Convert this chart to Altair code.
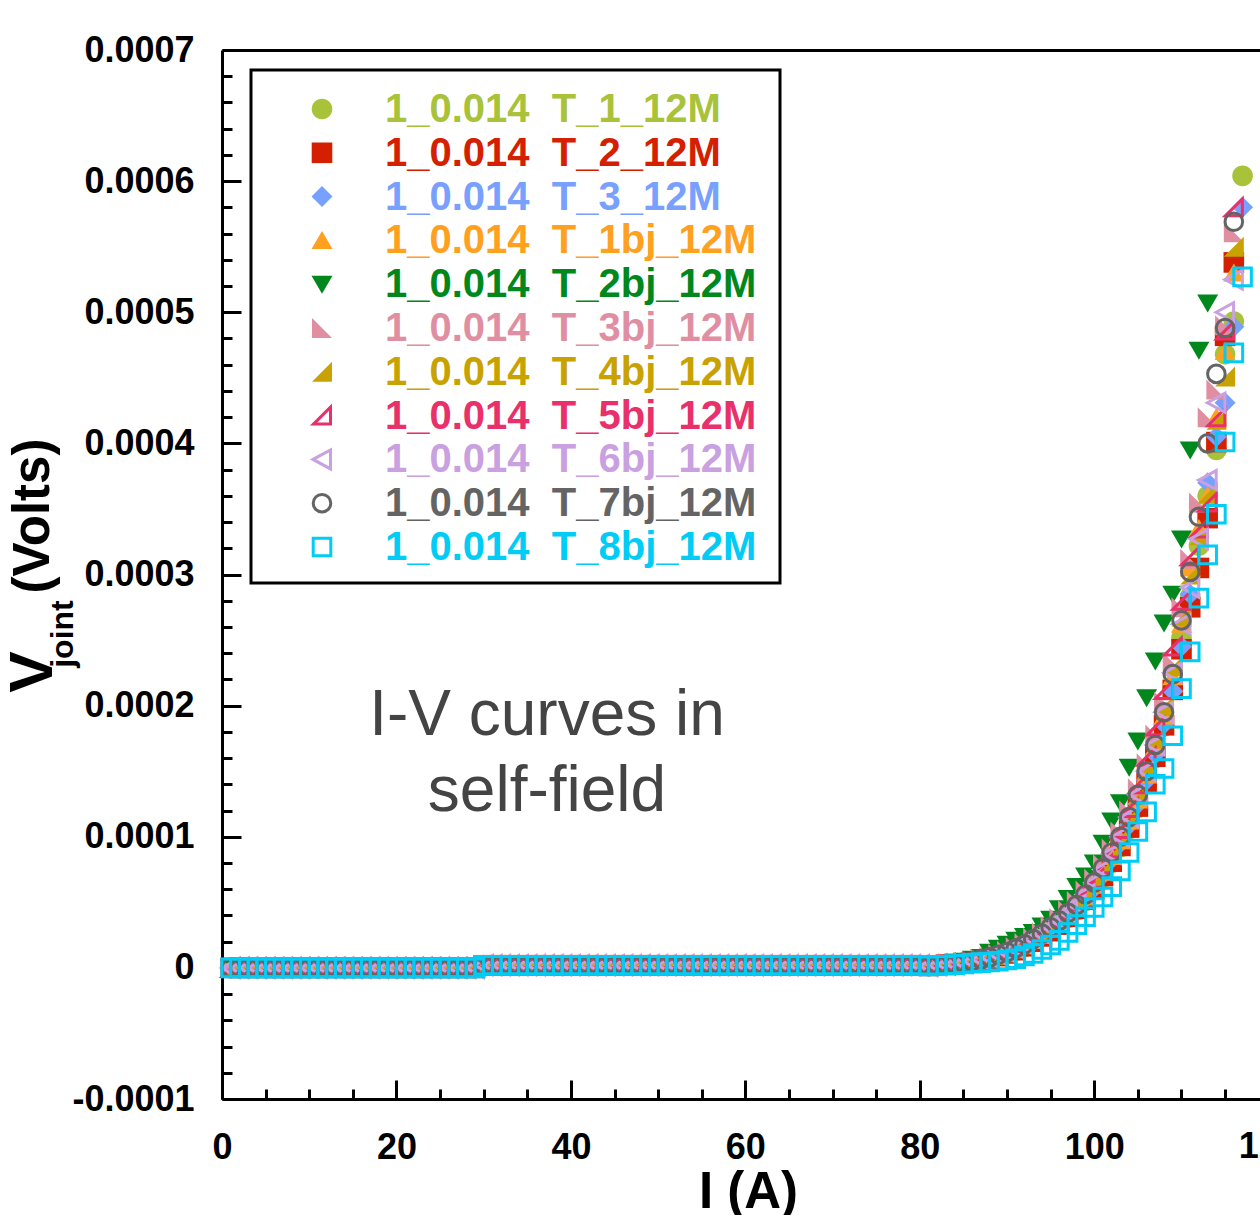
import altair as alt
import pandas as pd

# ---------------- data ----------------
SERIES = [
    "1_0.014 T_1_12M", "1_0.014 T_2_12M", "1_0.014 T_3_12M",
    "1_0.014 T_1bj_12M", "1_0.014 T_2bj_12M", "1_0.014 T_3bj_12M",
    "1_0.014 T_4bj_12M", "1_0.014 T_5bj_12M", "1_0.014 T_6bj_12M",
    "1_0.014 T_7bj_12M", "1_0.014 T_8bj_12M",
]
COLORS = ["#a8c23a", "#d42000", "#78a0ff", "#ffa01e", "#00881c", "#e08fa2",
          "#c8a200", "#e8306a", "#c9a0e0", "#646464", "#00ccf5"]

CURRENT_A = list(range(1, 118))  # measurement current grid (A)

# common flat part, I = 1..80 (microvolts)
BASE_UV = [
    0, 0, 0, 0, 0, 0, 0, 0, 0, 0,
    0, 0, 0, 0, 0, 0, 0, 0, 0, 0,
    0, 0, 0, 0, 0, 0, 0, 0, 0, 2,
    2, 2, 2, 2, 2, 2, 2, 2, 2, 2,
    2, 2, 2, 2, 2, 2, 2, 2, 2, 2,
    2, 2, 2, 2, 2, 2, 2, 2, 2, 2,
    2, 2, 2, 2, 2, 2, 2, 2, 2, 2,
    2, 2, 2, 2, 2, 2, 2, 2, 2, 2,
]

# rising part, from I = 81 A (microvolts)
RISE_1_12M = [1.5, 2, 2.5, 3, 3.5, 4.5, 5.5, 7, 9, 11, 13, 16, 20, 24, 28, 33, 38, 44, 51, 59,
              69, 80, 92, 106, 122, 140, 160, 184, 213, 252, 283, 322, 360, 395, 468, 493, 604]
RISE_2_12M = [1.5, 2, 2.5, 3, 3.5, 4.5, 5.5, 7, 9, 11, 13.5, 16.5, 20, 24, 28, 33, 39, 45, 52, 60,
              70, 81, 93, 107, 123, 141, 161, 185, 212, 243, 275, 305, 343, 401, 482, 538]
RISE_3_12M = [1.5, 2, 2.5, 3, 3.5, 4.5, 6, 7.5, 9.5, 11.5, 14, 17, 20, 24, 29, 34, 40, 46, 53, 61,
              71, 83, 95, 109, 125, 143, 163, 186, 211, 245, 285, 328, 370, 405, 431, 489, 580]
RISE_1BJ = [1.5, 2, 2.5, 3, 4, 5, 6, 7.5, 9.5, 12, 14.5, 17.5, 21, 25, 30, 35, 41, 47, 54, 63,
            73, 85, 97, 112, 128, 147, 168, 192, 222, 262, 305, 335, 360, 420, 470, 530]
RISE_2BJ = [2, 2.5, 3, 4, 5, 6.5, 8, 12, 15, 18, 21, 24, 27, 32, 37, 45, 53, 62, 70, 80,
            95, 112, 126, 153, 173, 206, 234, 263, 285, 327, 395, 471, 507]
RISE_3BJ = [2, 2.5, 3, 3.5, 4.5, 5.5, 7, 8.5, 10.5, 13, 16, 19, 23, 27, 32, 38, 44, 51, 59, 68,
            79, 91, 104, 120, 137, 156, 178, 203, 233, 275, 312, 355, 420, 441, 490, 561]
RISE_4BJ = [1.5, 2, 2.5, 3, 4, 5, 6.5, 8, 10, 12, 15, 18, 22, 26, 31, 36, 42, 48, 56, 65,
            75, 87, 100, 115, 132, 152, 175, 200, 230, 268, 300, 330, 362, 418, 451, 550]
RISE_5BJ = [2, 2.5, 3, 3.5, 4.5, 5.5, 7, 8.5, 10.5, 13, 16, 19, 23, 27, 32, 38, 44, 51, 59, 68,
            79, 91, 106, 122, 140, 161, 184, 212, 245, 280, 314, 335, 355, 420, 486, 580]
RISE_6BJ = [1.5, 2, 2.5, 3, 4, 5, 6.5, 8, 10, 12, 15, 18, 22, 26, 31, 36, 42, 48, 56, 65,
            75, 87, 100, 115, 132, 150, 170, 195, 225, 262, 290, 327, 372, 431, 500, 525]
RISE_7BJ = [1.5, 2, 2.5, 3, 4, 5, 6.5, 8, 10, 12, 15, 18, 22, 26, 31, 36, 42, 48, 56, 65,
            76, 88, 100, 115, 132, 150, 170, 195, 224, 265, 302, 344, 400, 453, 488, 569]
RISE_8BJ = [1.5, 2, 2, 2.5, 3, 3.5, 4, 4.5, 5, 6, 7, 9, 11, 14, 17.5, 21, 27, 33, 39, 46,
            54, 62, 74, 88, 104, 119, 140, 152, 177, 213, 241, 282, 315, 346, 401, 469, 527]

RISES = [RISE_1_12M, RISE_2_12M, RISE_3_12M, RISE_1BJ, RISE_2BJ, RISE_3BJ,
         RISE_4BJ, RISE_5BJ, RISE_6BJ, RISE_7BJ, RISE_8BJ]

X_LABELS = [0, 20, 40, 60, 80, 100]
X_EDGE_LABEL = [120]   # label partly beyond the visible right edge
X_TICKS = [0, 5, 10, 15, 20, 25, 30, 35, 40, 45, 50, 55, 60, 65, 70, 75, 80, 85,
           90, 95, 100, 105, 110, 115, 120]
Y_LABELS = [-0.0001, 0, 0.0001, 0.0002, 0.0003, 0.0004, 0.0005, 0.0006, 0.0007]
Y_TICKS = [round(-0.0001 + k * 0.00002, 6) for k in range(41)]

# ---------------- styles ----------------
FONT = "Liberation Sans"
LABEL_SIZE = 36
X_LABEL_PAD = 31
SHAPES = [
    "M1.03,0A1.03,1.03 0 1,1 -1.03,0A1.03,1.03 0 1,1 1.03,0Z",   # filled circle
    "M-1.03,-1.03H1.03V1.03H-1.03Z",                              # filled square
    "M0,-1.05L1.05,0L0,1.05L-1.05,0Z",                            # filled diamond
    "M0,-0.95L1.05,0.85L-1.05,0.85Z",                             # triangle up
    "M-1.05,-0.85L1.05,-0.85L0,0.95Z",                            # triangle down
    "M-1,-1L1,1L-1,1Z",                                           # right triangle (left)
    "M1,-1L1,1L-1,1Z",                                            # right triangle (right)
    "M0.85,-0.85L0.85,0.85L-0.85,0.85Z",                          # open right triangle
    "M-0.9,0L0.85,-0.95L0.85,0.95Z",                              # open triangle left
    "M0.88,0A0.88,0.88 0 1,1 -0.88,0A0.88,0.88 0 1,1 0.88,0Z",    # open circle
    "M-0.88,-0.88H0.88V0.88H-0.88Z",                              # open square
]
OPEN = [False] * 7 + [True] * 4
FILLS = [("transparent" if o else c) for c, o in zip(COLORS, OPEN)]
STROKES = [(c if o else "transparent") for c, o in zip(COLORS, OPEN)]

rows = []
for name, rise in zip(SERIES, RISES):
    vals = BASE_UV + rise
    for cur, v in zip(CURRENT_A, vals):
        rows.append({"series": name, "current": cur, "voltage": v * 1e-6})
df = pd.DataFrame(rows)

legend_df = pd.DataFrame({
    "series": SERIES,
    "label": [s.replace(" ", "\u00a0\u00a0") for s in SERIES],
})
one = pd.DataFrame({"k": [0]})
tick_df = pd.DataFrame({"current": [0.0], "voltage": [0.0]})
edge_df = pd.DataFrame({"current": X_EDGE_LABEL, "txt": [str(v) for v in X_EDGE_LABEL]})

W, H = 1038, 1049
x_scale = alt.Scale(domain=[0, 119], nice=False, zero=False)
y_scale = alt.Scale(domain=[-0.0001, 0.0007], nice=False, zero=False)
shape_scale = alt.Scale(domain=SERIES, range=SHAPES)
fill_scale = alt.Scale(domain=SERIES, range=FILLS)
stroke_scale = alt.Scale(domain=SERIES, range=STROKES)
color_scale = alt.Scale(domain=SERIES, range=COLORS)

Y_LABEL_EXPR = ("datum.value == 0 ? '0' : (datum.value < 0 ? '-' + format(-datum.value, '.4f')"
                " : format(datum.value, '.4f'))")
Y_MAJOR_TEST = "abs(datum.value * 10000 - round(datum.value * 10000)) < 0.01"

points = alt.Chart(df).mark_point(opacity=1, strokeWidth=3, size=400).encode(
    x=alt.X("current:Q", scale=x_scale, axis=alt.Axis(
        orient="bottom", values=X_LABELS, format="d", ticks=False, grid=False,
        domainColor="black", domainWidth=3, labelFont=FONT, labelFontSize=LABEL_SIZE,
        labelFontWeight="bold", labelColor="black", labelPadding=X_LABEL_PAD, labelFlush=False,
        labelOverlap=False, labelBound=False, title="I (A)", titleFont=FONT,
        titleFontSize=51, titleFontWeight="bold", titleColor="black", titlePadding=2,
        titleX=526)),
    y=alt.Y("voltage:Q", scale=y_scale, axis=alt.Axis(
        orient="left", values=Y_LABELS, labelExpr=Y_LABEL_EXPR, ticks=False, grid=False,
        domainColor="black", domainWidth=3, labelFont=FONT, labelFontSize=LABEL_SIZE,
        labelFontWeight="bold", labelColor="black", labelPadding=28, labelFlush=False,
        labelOverlap=False, labelBound=False, title=None)),
    shape=alt.Shape("series:N", scale=shape_scale, legend=None),
    fill=alt.Fill("series:N", scale=fill_scale, legend=None),
    stroke=alt.Stroke("series:N", scale=stroke_scale, legend=None),
)

edge_label = alt.Chart(edge_df).mark_text(
    align="center", baseline="top", font=FONT, fontSize=LABEL_SIZE, fontWeight="bold",
    color="black"
).encode(
    x=alt.X("current:Q", scale=x_scale, axis=None),
    y=alt.value(H + X_LABEL_PAD),
    text="txt:N",
)

ticks = alt.Chart(tick_df).mark_point(opacity=0).encode(
    x=alt.X("current:Q", scale=x_scale, axis=alt.Axis(
        orient="top", offset=-H, values=X_TICKS, labels=False, domain=False, grid=False,
        tickColor="black", tickWidth=3,
        tickSize={"condition": {"test": "datum.value % 20 === 0", "value": 19}, "value": 10},
        title=None)),
    y=alt.Y("voltage:Q", scale=y_scale, axis=alt.Axis(
        orient="right", offset=-W, values=Y_TICKS, labels=False, domain=False, grid=False,
        tickColor="black", tickWidth=3,
        tickSize={"condition": {"test": Y_MAJOR_TEST, "value": 19}, "value": 10},
        title=None)),
)

frame = alt.Chart(tick_df).mark_point(opacity=0).encode(
    x=alt.X("current:Q", scale=x_scale, axis=alt.Axis(
        orient="top", labels=False, ticks=False, grid=False, domainColor="black",
        domainWidth=3, title=None)),
    y=alt.Y("voltage:Q", scale=y_scale, axis=None),
)

legend_box = alt.Chart(one).mark_rect(fill="white", stroke="black", strokeWidth=3).encode(
    x=alt.value(29), x2=alt.value(558), y=alt.value(20), y2=alt.value(533),
)

leg_y = alt.Y("series:N", sort=SERIES,
              scale=alt.Scale(type="point", domain=SERIES, range=[59, 497], padding=0),
              axis=None)
legend_syms = alt.Chart(legend_df).mark_point(opacity=1, strokeWidth=3, size=400).encode(
    x=alt.value(100), y=leg_y,
    shape=alt.Shape("series:N", scale=shape_scale, legend=None),
    fill=alt.Fill("series:N", scale=fill_scale, legend=None),
    stroke=alt.Stroke("series:N", scale=stroke_scale, legend=None),
)
legend_text = alt.Chart(legend_df).mark_text(
    align="left", baseline="middle", font=FONT, fontSize=40, fontWeight="bold", dy=1
).encode(
    x=alt.value(163), y=leg_y, text="label:N",
    color=alt.Color("series:N", scale=color_scale, legend=None),
)

ytitle_v = alt.Chart(one).mark_text(
    text="V", angle=270, align="center", baseline="alphabetic", font=FONT,
    fontSize=62, fontWeight="bold", color="black"
).encode(x=alt.value(-170), y=alt.value(622))
ytitle_sub = alt.Chart(one).mark_text(
    text="joint", angle=270, align="center", baseline="alphabetic", font=FONT,
    fontSize=32, fontWeight="bold", color="black"
).encode(x=alt.value(-149), y=alt.value(584))
ytitle_unit = alt.Chart(one).mark_text(
    text="(Volts)", angle=270, align="center", baseline="alphabetic", font=FONT,
    fontSize=51, fontWeight="bold", color="black"
).encode(x=alt.value(-173), y=alt.value(466))

note1 = alt.Chart(one).mark_text(
    text="I-V curves in", align="center", baseline="alphabetic", font=FONT,
    fontSize=64, color="#444444"
).encode(x=alt.value(325), y=alt.value(685))
note2 = alt.Chart(one).mark_text(
    text="self-field", align="center", baseline="alphabetic", font=FONT,
    fontSize=64, color="#444444"
).encode(x=alt.value(325), y=alt.value(761))

chart = alt.layer(
    points, ticks, frame, edge_label, legend_box, legend_syms, legend_text,
    ytitle_v, ytitle_sub, ytitle_unit, note1, note2,
).resolve_scale(
    y="independent"
).resolve_axis(
    x="independent", y="independent"
).properties(
    width=W, height=H,
    autosize=alt.AutoSizeParams(type="none"),
    padding={"left": 222, "top": 50, "right": 0, "bottom": 116},
    background="white",
).configure_view(strokeWidth=0)

chart.save("out.html", embed_options={"renderer": "svg", "actions": False})
